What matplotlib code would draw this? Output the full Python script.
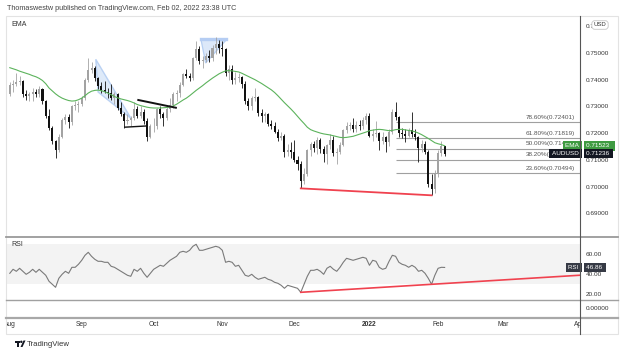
import matplotlib
matplotlib.use("Agg")
import matplotlib.pyplot as plt
import matplotlib.transforms as mtrans
from matplotlib.lines import Line2D
from matplotlib.patches import Polygon, Rectangle, Circle
import numpy as np

plt.rcParams["font.family"] = ["Liberation Sans", "DejaVu Sans"]

# ---- data (AUDUSD daily, Aug 2 2021 .. Feb 3 2022) ----
opens = [.7345, .7380, .7385, .7390, .7395, .7345, .7340, .7345, .7355, .7345,
         .7365, .7320, .7265, .7220, .7170, .7135, .7185, .7250, .7260, .7240,
         .7300, .7305, .7310, .7330, .7400, .7435, .7445, .7405, .7375, .7360,
         .7355, .7350, .7330, .7345, .7295, .7270, .7245, .7250, .7255, .7290,
         .7265, .7280, .7245, .7185, .7225, .7228, .7290, .7270, .7255, .7290,
         .7305, .7345, .7350, .7380, .7420, .7415, .7405, .7480, .7515, .7470,
         .7475, .7490, .7480, .7520, .7535, .7520, .7515, .7425, .7440, .7400,
         .7405, .7410, .7385, .7320, .7300, .7330, .7335, .7275, .7265, .7270,
         .7235, .7225, .7205, .7180, .7190, .7130, .7135, .7130, .7100, .7085,
         .7020, .7045, .7135, .7160, .7145, .7175, .7140, .7120, .7155, .7175,
         .7125, .7130, .7155, .7210, .7225, .7230, .7215, .7230, .7225, .7250,
         .7265, .7190, .7195, .7200, .7170, .7185, .7165, .7205, .7280, .7260,
         .7200, .7195, .7190, .7210, .7195, .7185, .7145, .7160, .7130, .7010,
         .6990, .7045, .7125, .7150]
highs = [.7390, .7400, .7425, .7415, .7400, .7360, .7355, .7370, .7365, .7375,
         .7370, .7325, .7290, .7225, .7175, .7195, .7255, .7270, .7270, .7305,
         .7320, .7320, .7340, .7405, .7480, .7465, .7450, .7410, .7390, .7395,
         .7370, .7385, .7355, .7350, .7315, .7280, .7270, .7265, .7315, .7300,
         .7300, .7290, .7255, .7235, .7255, .7295, .7300, .7280, .7300, .7330,
         .7355, .7360, .7390, .7425, .7440, .7425, .7485, .7545, .7525, .7490,
         .7500, .7510, .7530, .7560, .7550, .7545, .7520, .7455, .7455, .7430,
         .7425, .7415, .7395, .7330, .7340, .7370, .7340, .7290, .7280, .7275,
         .7250, .7240, .7215, .7205, .7195, .7160, .7165, .7175, .7115, .7095,
         .7070, .7140, .7165, .7170, .7185, .7180, .7150, .7160, .7195, .7190,
         .7145, .7165, .7215, .7240, .7240, .7255, .7245, .7250, .7260, .7275,
         .7275, .7215, .7245, .7205, .7205, .7190, .7215, .7290, .7315, .7265,
         .7220, .7215, .7220, .7280, .7215, .7190, .7175, .7170, .7135, .7045,
         .7060, .7135, .7170, .7152]
lows = [.7340, .7355, .7375, .7380, .7335, .7325, .7320, .7320, .7335, .7335,
        .7310, .7255, .7210, .7160, .7106, .7130, .7180, .7235, .7220, .7230,
        .7285, .7280, .7300, .7325, .7390, .7425, .7395, .7365, .7350, .7350,
        .7330, .7325, .7310, .7285, .7265, .7220, .7235, .7225, .7250, .7255,
        .7255, .7235, .7170, .7180, .7205, .7215, .7255, .7225, .7250, .7280,
        .7295, .7320, .7335, .7375, .7405, .7395, .7400, .7475, .7460, .7445,
        .7465, .7465, .7470, .7495, .7500, .7490, .7415, .7400, .7385, .7385,
        .7390, .7370, .7310, .7285, .7285, .7320, .7265, .7240, .7240, .7225,
        .7215, .7200, .7170, .7175, .7110, .7115, .7105, .7090, .7060, .6993,
        .7010, .7040, .7115, .7130, .7120, .7125, .7090, .7085, .7140, .7115,
        .7085, .7120, .7150, .7200, .7210, .7205, .7205, .7210, .7215, .7235,
        .7185, .7170, .7185, .7135, .7160, .7130, .7150, .7195, .7250, .7185,
        .7180, .7165, .7185, .7185, .7175, .7090, .7130, .7120, .7000, .6967,
        .6975, .7035, .7115, .7115]
closes = [.7380, .7385, .7390, .7395, .7345, .7340, .7345, .7355, .7345, .7365,
          .7320, .7265, .7220, .7170, .7135, .7185, .7250, .7260, .7240, .7300,
          .7305, .7310, .7330, .7400, .7435, .7445, .7405, .7375, .7360, .7355,
          .7350, .7330, .7345, .7295, .7270, .7245, .7250, .7255, .7290, .7265,
          .7280, .7245, .7185, .7225, .7228, .7290, .7270, .7255, .7290, .7305,
          .7345, .7350, .7380, .7420, .7415, .7405, .7480, .7515, .7470, .7475,
          .7490, .7480, .7520, .7535, .7520, .7515, .7425, .7440, .7400, .7405,
          .7410, .7385, .7320, .7300, .7330, .7335, .7275, .7265, .7270, .7235,
          .7225, .7205, .7180, .7190, .7130, .7135, .7130, .7100, .7085, .7020,
          .7045, .7135, .7160, .7145, .7175, .7140, .7120, .7155, .7175, .7125,
          .7130, .7155, .7210, .7225, .7230, .7215, .7230, .7225, .7250, .7265,
          .7190, .7195, .7200, .7170, .7185, .7165, .7205, .7280, .7260, .7200,
          .7195, .7190, .7210, .7195, .7185, .7145, .7160, .7130, .7010, .6990,
          .7045, .7125, .7150, .71236]
ema = [.7445, .7441, .7437, .7432, .7428, .7424, .7420, .7415, .7411, .7405,
       .7397, .7385, .7369, .7358, .7347, .7338, .7331, .7326, .7322, .7320,
       .7321, .7325, .7331, .7340, .7350, .7357, .7360, .7361, .7359, .7355,
       .7350, .7344, .7337, .7332, .7328, .7325, .7322, .7318, .7313, .7307,
       .7303, .7300, .7297, .7295, .7294, .7294, .7294, .7295, .7296, .7298,
       .7302, .7308, .7316, .7324, .7331, .7340, .7350, .7360, .7369, .7378,
       .7388, .7397, .7406, .7414, .7422, .7428, .7433, .7434, .7433, .7431,
       .7429, .7424, .7418, .7412, .7406, .7400, .7393, .7386, .7378, .7370,
       .7362, .7352, .7340, .7327, .7314, .7302, .7290, .7277, .7263, .7249,
       .7236, .7222, .7213, .7208, .7204, .7200, .7197, .7195, .7193, .7190,
       .7187, .7184, .7183, .7184, .7186, .7188, .7192, .7196, .7200, .7204,
       .7209, .7211, .7213, .7214, .7213, .7211, .7209, .7210, .7213, .7214,
       .7214, .7212, .7210, .7208, .7205, .7200, .7194, .7187, .7180, .7172,
       .7164, .7160, .7157, .71523]
rsi = [41, 45, 43, 46, 43, 40, 42, 45, 42, 45, 42, 39, 33, 30, 27, 36, 40, 43, 41, 47,
       47, 50, 54, 59, 62, 58, 55, 53, 53, 52, 52, 48, 47, 45, 43, 41, 39, 38, 45, 43,
       46, 41, 37, 41, 45, 47, 49, 48, 51, 54, 56, 58, 62, 63, 62, 64, 68, 70, 64, 64,
       65, 66, 67, 68, 67, 64, 52, 53, 52, 48, 49, 44, 39, 38, 40, 37, 35, 36, 37, 35,
       34, 32, 31, 29, 26, 29, 28, 27, 26, 22, 30, 38, 44, 44, 45, 43, 40, 46, 48, 45,
       43, 47, 52, 56, 55, 54, 55, 56, 57, 56, 49, 54, 53, 47, 45, 46, 53, 59, 58, 52,
       50, 49, 47, 49, 47, 43, 44, 41, 36, 30, 39, 46, 47, 46.86]

month_labels = ["Aug", "Sep", "Oct", "Nov", "Dec", "2022", "Feb", "Mar", "Apr"]
month_bars = [0, 22, 44, 65, 87, 110, 131, 151, 174]

fib_start_bar = 118
fib_pcts = [23.6, 38.2, 50.0, 61.8, 78.6]
fib_prices = [0.70494, 0.71000, 0.71409, 0.71819, 0.72401]

price_trend_bars = [89, 129]          # red support line between the two lows
rsi_trend_bars = [89, 129]
rsi_trend_vals = [22.0, 30.0]

# pattern drawings (bar, price)
sep_wedge = [(26.3, 0.74764), (37.1, 0.72547), (27.0, 0.73539)]
oct_flag = [(58.5, 0.75490), (66.2, 0.75490), (59.9, 0.74625)]
line_low = [(35.2, 0.72222), (41.9, 0.72268)]
line_high = [(39.3, 0.73240), (50.8, 0.72950)]

last_price = closes[-1]
last_ema = ema[-1]
last_rsi = rsi[-1]

# ---- layout ----
W, H = 624, 355
fig = plt.figure(figsize=(W / 100, H / 100), dpi=100)
px = mtrans.Affine2D().scale(1 / W, -1 / H).translate(0, 1) + fig.transFigure


def box(x0, y0, x1, y1):
    return [x0 / W, 1 - y1 / H, (x1 - x0) / W, (y1 - y0) / H]


ax = fig.add_axes(box(6, 16, 580, 236.7))
ax_rsi = fig.add_axes(box(6, 236.7, 580, 300), sharex=ax)
ax_pane = fig.add_axes(box(6, 300, 580, 318), sharex=ax)

x = np.arange(len(closes))
o, h, l, c = map(np.array, (opens, highs, lows, closes))
up = c >= o
col = np.where(up, "#a3a3a3", "#111111")

ax.vlines(x, l, h, colors=col, lw=0.6, zorder=3)
ax.bar(x, np.maximum(np.abs(c - o), 0.00008), bottom=np.minimum(o, c),
       width=0.62, color=col, linewidth=0, zorder=3)
ax.plot(x, ema, color="#5cb35c", lw=0.8, zorder=4)

xmax = 174.4
ax.set_xlim(-1.16, xmax)
ax.set_ylim(0.6812, 0.76386)

# fib retracement
ax.hlines(fib_prices, fib_start_bar, xmax, color="#a0a0a0", lw=0.8, zorder=2)
lab_tr = mtrans.blended_transform_factory(ax.transAxes, ax.transData)
for p, v in zip(fib_pcts, fib_prices):
    ax.text(1 - 5 / 574, v + 0.0009, f"{p:.2f}%({v:.5f})", transform=lab_tr,
            ha="right", va="bottom", fontsize=4.6, color="#555555", zorder=5)

# drawings
ax.add_patch(Polygon(sep_wedge, closed=True, fc="#d4e3f8", ec="#a9c6f0", lw=1.0, alpha=0.75, zorder=2))
ax.add_patch(Polygon(oct_flag, closed=True, fc="#d4e3f8", ec="#a9c6f0", lw=0.9, alpha=0.8, zorder=2))
ax.plot([oct_flag[0][0], oct_flag[1][0]], [0.75540, 0.75540], color="#b5cdf3", lw=2.4, zorder=2)
ax.plot(*zip(*line_low), color="#111111", lw=1.0, zorder=5)
ax.plot(*zip(*line_high), color="#111111", lw=1.4, zorder=5)
ax.plot(price_trend_bars, [lows[i] for i in price_trend_bars], color="#f0424f", lw=1.3, zorder=5)

# price scale
ax.yaxis.tick_right()
ax.set_yticks([0.69, 0.70, 0.71, 0.72, 0.73, 0.74, 0.75, 0.76])
ax.set_yticklabels([f"{v:.5f}" for v in ax.get_yticks()])
ax.tick_params(axis="y", length=0, pad=4.3, labelsize=4.6, labelcolor="#333333")
ax.tick_params(axis="x", bottom=False, labelbottom=False)
for s in ax.spines.values():
    s.set_visible(False)

ax.text(1.0, last_ema, "EMA ", transform=lab_tr, ha="right", va="center", fontsize=4.6,
        color="white", zorder=8, clip_on=False,
        bbox=dict(boxstyle="square,pad=0.35", fc="#3f9b42", ec="none"))
ax.text(1.0 + 6 / 574, last_ema, f"{last_ema:.5f}  ", transform=lab_tr, ha="left", va="center",
        fontsize=4.6, color="white", zorder=8, clip_on=False,
        bbox=dict(boxstyle="square,pad=0.35", fc="#3f9b42", ec="none"))
ax.text(1.0, last_price, "AUDUSD ", transform=lab_tr, ha="right", va="center", fontsize=4.6,
        color="white", zorder=8, clip_on=False,
        bbox=dict(boxstyle="square,pad=0.35", fc="#131722", ec="none"))
ax.text(1.0 + 6 / 574, last_price, f"{last_price:.5f} ", transform=lab_tr, ha="left", va="center",
        fontsize=4.6, color="white", zorder=8, clip_on=False,
        bbox=dict(boxstyle="square,pad=0.35", fc="#131722", ec="none"))

# RSI pane
ax_rsi.axhspan(30, 70, color="#f3f3f3", lw=0, zorder=1)
ax_rsi.plot(x, rsi, color="#7a7a7a", lw=0.8, zorder=3)
ray_slope = (rsi_trend_vals[1] - rsi_trend_vals[0]) / (rsi_trend_bars[1] - rsi_trend_bars[0])
ax_rsi.plot([rsi_trend_bars[0], xmax],
            [rsi_trend_vals[0], rsi_trend_vals[0] + ray_slope * (xmax - rsi_trend_bars[0])],
            color="#f0424f", lw=1.2, zorder=4)
ax_rsi.set_ylim(14.3, 77.6)
ax_rsi.yaxis.tick_right()
ax_rsi.set_yticks([20, 40, 60])
ax_rsi.set_yticklabels(["20.00", "40.00", "60.00"])
ax_rsi.tick_params(axis="y", length=0, pad=4.3, labelsize=4.6, labelcolor="#333333")
ax_rsi.tick_params(axis="x", bottom=False, labelbottom=False)
for s in ax_rsi.spines.values():
    s.set_visible(False)
rsi_tr = mtrans.blended_transform_factory(ax_rsi.transAxes, ax_rsi.transData)
ax_rsi.text(1.0, last_rsi, "RSI ", transform=rsi_tr, ha="right", va="center", fontsize=4.4,
            color="white", zorder=8, clip_on=False,
            bbox=dict(boxstyle="square,pad=0.35", fc="#363a45", ec="none"))
ax_rsi.text(1.0 + 6 / 574, last_rsi, f"{last_rsi:.2f} ", transform=rsi_tr, ha="left", va="center",
            fontsize=4.6, color="white", zorder=8, clip_on=False,
            bbox=dict(boxstyle="square,pad=0.35", fc="#363a45", ec="none"))

# empty lower pane + time scale
ax_pane.set_ylim(-1.35, 1.0)
ax_pane.yaxis.tick_right()
ax_pane.set_yticks([0])
ax_pane.set_yticklabels(["0.00000"])
ax_pane.tick_params(axis="y", length=0, pad=4.3, labelsize=4.6, labelcolor="#333333")
ax_pane.tick_params(axis="x", bottom=False, labelbottom=False)
for s in ax_pane.spines.values():
    s.set_visible(False)
clip = mtrans.TransformedBbox(mtrans.Bbox([[6 / W, 0], [580 / W, 1]]), fig.transFigure)
time_tr = mtrans.blended_transform_factory(ax_pane.transData, ax_pane.transAxes)
for b, name in zip(month_bars, month_labels):
    t = ax_pane.text(b, -7 / 18, name, transform=time_tr, ha="center", va="center",
                     fontsize=4.8, color="#333333",
                     fontweight="bold" if name == "2022" else "normal")
    t.set_clip_box(clip)
    t.set_clip_on(True)

# frame and separators
fig.add_artist(Rectangle((6, 16), 612, 318, transform=px, fill=False, ec="#e3e3e3", lw=0.8))
for yy, lw, cc in [(236.7, 1.3, "#9a9a9a"), (300, 1.0, "#a0a0a0"), (318, 1.6, "#a8a8a8")]:
    fig.add_artist(Line2D([6, 618], [yy, yy], transform=px, color=cc, lw=lw))
fig.add_artist(Line2D([580, 580], [16, 334], transform=px, color="#555555", lw=0.8))

# header / labels
fig.text(7 / W, 1 - 8 / H, "Thomaswestw published on TradingView.com, Feb 02, 2022 23:38 UTC",
         fontsize=5.2, color="#444444", va="center", ha="left")
fig.text(11 / W, 1 - 25 / H, "EMA", fontsize=5, color="#333333", va="center")
fig.text(11 / W, 1 - 245 / H, "RSI", fontsize=5, color="#333333", va="center")
fig.text(600 / W, 1 - 25 / H, "USD", fontsize=4.3, color="#333333", va="center", ha="center",
         bbox=dict(boxstyle="round,pad=0.3,rounding_size=0.5", fc="white", ec="#c4c4c4", lw=0.6))

# footer logo
fig.add_artist(Rectangle((15, 340.5), 5, 2, transform=px, fc="#131722", ec="none"))
fig.add_artist(Rectangle((17, 340.5), 2, 6.5, transform=px, fc="#131722", ec="none"))
fig.add_artist(Circle((21.3, 341.8), 1.2, transform=px, fc="#131722", ec="none"))
fig.add_artist(Polygon([(20.5, 347), (23.5, 340.5), (25.5, 340.5), (22.5, 347)], closed=True,
                       transform=px, fc="#131722", ec="none"))
fig.text(27 / W, 1 - 344 / H, "TradingView", fontsize=5.6, color="#333333", va="center")

fig.savefig("out.png", dpi=100)
